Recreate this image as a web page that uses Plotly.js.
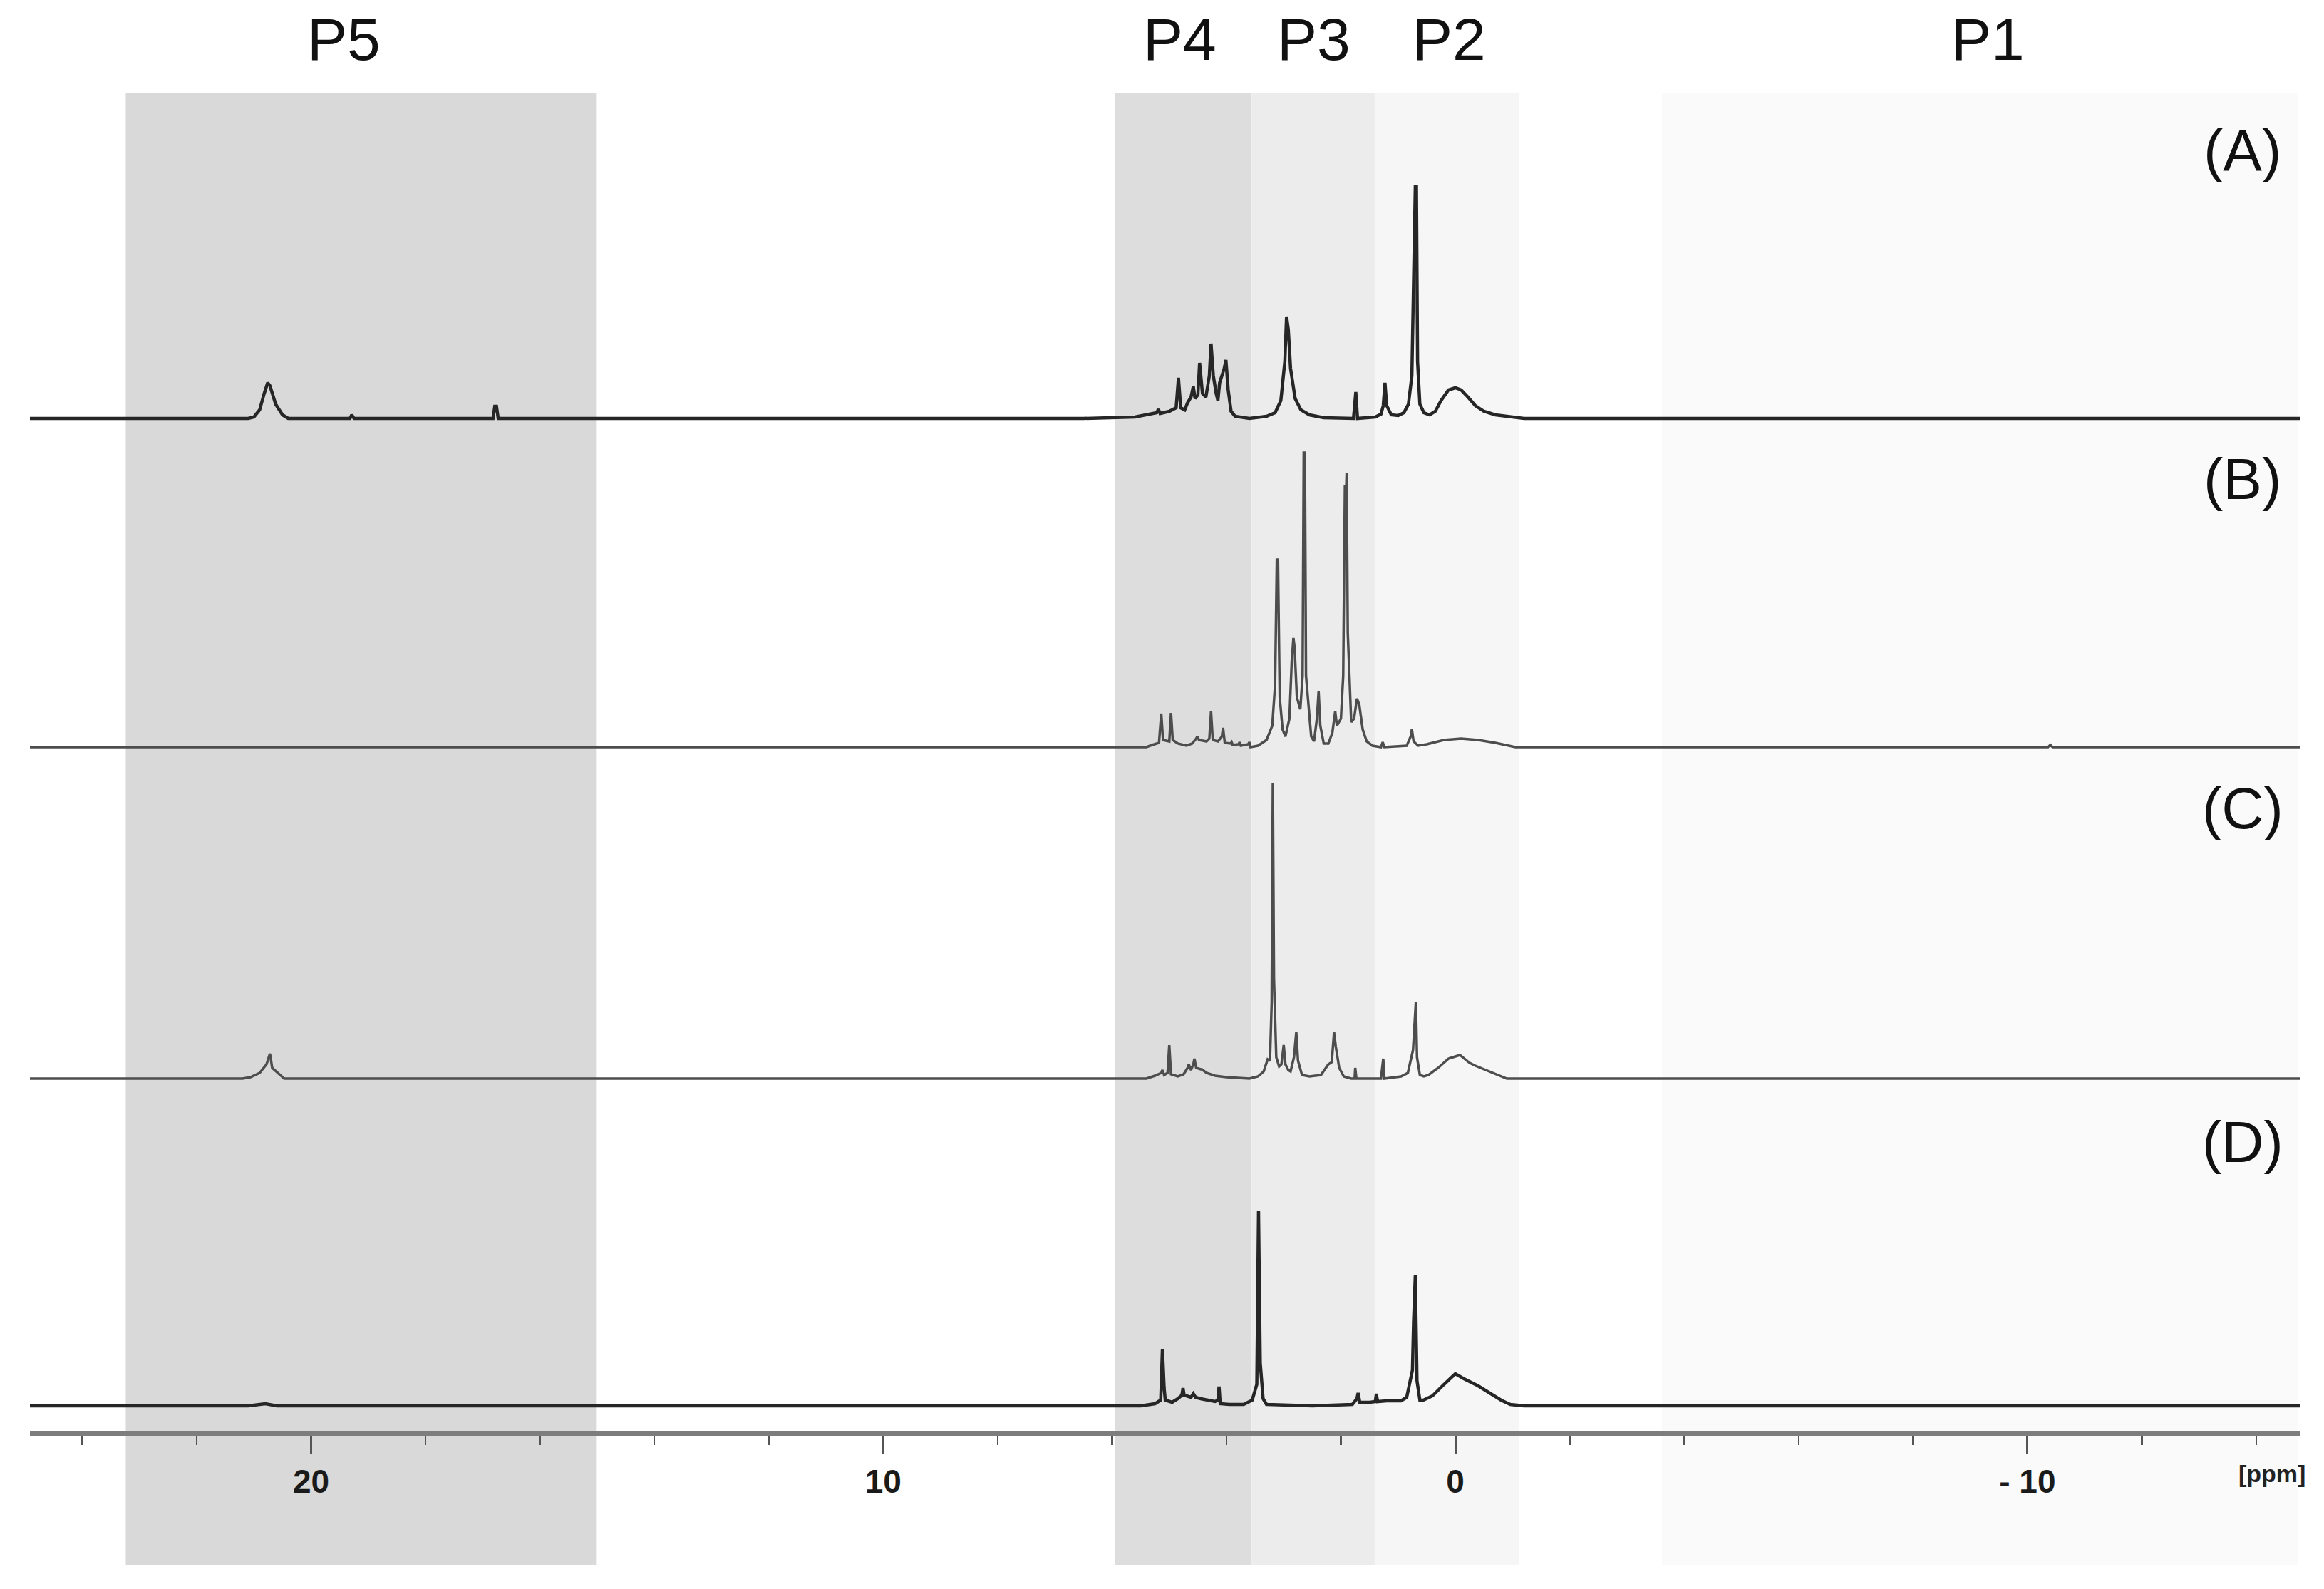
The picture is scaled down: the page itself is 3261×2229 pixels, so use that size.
<!DOCTYPE html>
<html>
<head>
<meta charset="utf-8">
<script src="https://cdn.plot.ly/plotly-3.0.1.min.js"></script>
<style>
html,body{margin:0;padding:0;background:#fff;}
#chart{width:3261px;height:2229px;}
</style>
</head>
<body>
<div id="chart"></div>
<script>
// ---------- DATA (chemical shift in ppm, intensity in arbitrary units) ----------
const specNames = ["(A)", "(B)", "(C)", "(D)"];

const ppmA = [24.93,21.1,21.0,20.9,20.82,20.76,20.72,20.62,20.5,20.4,19.32,19.29,19.25,16.82,16.79,16.76,16.73,
  6.5,5.6,5.3,5.22,5.19,5.16,5.0,4.88,4.84,4.80,4.73,4.68,4.62,4.58,4.55,4.5,4.47,4.42,4.36,4.30,4.27,4.23,4.18,4.15,4.12,4.08,4.04,4.01,3.97,3.92,3.85,3.6,
  3.3,3.15,3.05,2.98,2.95,2.92,2.88,2.80,2.7,2.55,2.3,1.78,1.74,1.71,1.4,1.3,1.26,1.23,1.2,1.12,1.0,0.9,0.82,0.76,0.73,0.70,0.68,0.66,0.62,0.55,0.45,
  0.35,0.25,0.12,0.0,-0.1,-0.22,-0.35,-0.5,-0.7,-0.9,-1.2,-14.76];
const intA = [0,0,2,12,35,50,46,20,5,0,0,5,0,0,17,17,0,
  0,2,6,8,13,7,10,15,57,15,12,22,30,45,28,33,78,35,30,60,105,60,35,25,50,60,70,82,40,10,3,0,
  3,8,25,80,143,125,70,28,12,5,1,0,37,0,2,6,18,50,18,5,4,8,20,60,187,325,325,80,20,8,5,
  10,25,40,43,40,30,18,10,5,3,0,0];

const ppmB = [24.93,5.4,5.3,5.18,5.14,5.11,5.0,4.97,4.94,4.85,4.7,4.6,4.53,4.51,4.48,4.35,4.3,4.27,4.24,4.15,4.08,4.06,4.03,3.93,3.91,3.89,3.79,3.77,3.75,3.62,3.60,3.58,
  3.45,3.3,3.2,3.15,3.12,3.10,3.07,3.02,2.97,2.9,2.86,2.83,2.81,2.77,2.71,2.67,2.65,2.63,2.61,2.57,2.52,2.47,2.42,2.39,2.36,2.3,2.22,2.15,2.10,2.07,2.0,1.96,1.93,1.915,1.90,1.88,1.82,1.77,1.72,1.68,1.62,1.55,1.45,
  1.3,1.27,1.24,0.85,0.78,0.76,0.73,0.65,0.5,0.2,-0.1,-0.4,-0.7,-1.05,-10.36,-10.4,-10.44,-14.76];
const intB = [0,0,3,6,47,10,8,48,10,5,2,5,12,15,10,8,12,50,10,8,15,27,6,5,7,3,4,7,2,4,7,0,
  2,10,30,88,263,263,70,25,15,40,120,153,140,70,53,100,413,413,100,60,15,8,40,78,30,5,5,20,50,30,40,100,368,340,385,160,35,40,68,60,25,8,2,
  0,7,0,2,15,25,8,2,4,10,12,10,6,0,0,3,0,0];

const ppmC = [24.93,21.2,21.06,20.9,20.78,20.72,20.68,20.55,20.47,5.4,5.25,5.14,5.12,5.09,5.03,5.0,4.97,4.85,4.75,4.68,4.66,4.62,4.58,4.56,4.53,4.45,4.43,4.35,4.2,4.0,3.6,
  3.45,3.35,3.28,3.24,3.21,3.19,3.17,3.13,3.08,3.04,3.0,2.97,2.92,2.88,2.82,2.78,2.75,2.68,2.55,2.35,2.22,2.16,2.12,2.09,2.03,1.95,1.82,1.76,1.75,1.73,
  1.3,1.26,1.24,0.95,0.83,0.74,0.72,0.69,0.67,0.62,0.55,0.47,0.3,0.12,-0.08,-0.25,-0.35,-0.6,-0.9,-14.76];
const intC = [0,0,2,8,20,35,15,5,0,0,4,8,12,5,8,47,6,3,6,15,20,12,20,28,15,13,13,8,4,2,0,
  3,10,27,25,107,415,140,30,17,20,47,20,12,10,30,65,25,5,3,5,20,23,65,45,15,3,0,0,15,0,
  0,28,0,3,8,40,67,108,30,5,3,5,15,28,33,22,18,10,0,0];

const ppmD = [24.93,21.1,20.8,20.6,5.5,5.25,5.15,5.12,5.09,5.07,4.95,4.85,4.78,4.76,4.74,4.62,4.58,4.54,4.45,4.2,4.15,4.13,4.11,3.95,3.7,
  3.55,3.47,3.44,3.41,3.36,3.3,2.5,1.8,1.72,1.70,1.67,1.5,1.4,1.38,1.36,1.2,0.95,0.85,0.75,0.73,0.70,0.67,0.62,0.56,0.4,0.2,0.0,-0.15,-0.4,-0.6,-0.8,-0.96,-1.2,-14.76];
const intD = [0,0,3,0,0,3,8,80,25,8,5,10,15,25,15,12,17,12,10,6,8,27,3,2,2,
  8,30,273,60,10,2,0,2,10,18,5,5,6,17,6,7,7,12,50,118,183,35,8,8,14,30,45,38,28,18,8,2,0,0];

const regionNames = ["P5", "P4", "P3", "P2", "P1"];
const regionFrom  = [23.24, 5.95, 3.56, 1.41, -3.61];
const regionTo    = [15.02, 3.56, 1.41, -1.11, -14.72];
const regionLabelAt = [19.43, 4.81, 2.47, 0.11, -9.31];

const tickVals = [20, 10, 0, -10];
const tickText = ["20", "10", "0", "- 10"];

// ---------- PRESENTATION ----------
const W = 3261, H = 2229;
const M = {l: 42, r: 34, t: 0, b: 221};
const PH = H - M.t - M.b;              // plot height in px
const yp = p => (PH - p) / PH;          // pixel row (from top) -> paper y
const baseRows = [587, 1048, 1513, 1972];
const offsets = baseRows.map(p => PH - p);
const labelRows = [210, 671, 1133, 1601];
const lineColors = ["#262626", "#4d4d4d", "#4d4d4d", "#262626"];
const lineWidths = [4.5, 3.5, 3.5, 4.5];
const bandColors = ["#d9d9d9", "#dddddd", "#ececec", "#f6f6f6", "#fafafa"];

const X = [ppmA, ppmB, ppmC, ppmD];
const Y = [intA, intB, intC, intD];

const traces = X.map((xs, i) => ({
  type: "scatter", mode: "lines",
  x: xs, y: Y[i].map(v => v + offsets[i]),
  line: {color: lineColors[i], width: lineWidths[i]},
  name: specNames[i], hoverinfo: "x+y", showlegend: false
}));

const shapes = regionNames.map((n, i) => ({
  type: "rect", xref: "x", yref: "paper",
  x0: regionFrom[i], x1: regionTo[i], y0: yp(2195), y1: yp(130),
  fillcolor: bandColors[i], line: {width: 0}, layer: "below"
}));

const annotations = [];
regionNames.forEach((n, i) => annotations.push({
  text: n, x: regionLabelAt[i], xref: "x", y: yp(55), yref: "paper",
  showarrow: false, xanchor: "center", yanchor: "middle",
  font: {family: "Liberation Sans, Arial, sans-serif", size: 84, color: "#111"}
}));
specNames.forEach((n, i) => annotations.push({
  text: n, x: -13.76, xref: "x", y: yp(labelRows[i]), yref: "paper",
  showarrow: false, xanchor: "center", yanchor: "middle",
  font: {family: "Liberation Sans, Arial, sans-serif", size: 82, color: "#111"}
}));
annotations.push({
  text: "<b>[ppm]</b>", x: -14.27, xref: "x", y: yp(2067), yref: "paper",
  showarrow: false, xanchor: "center", yanchor: "middle",
  font: {family: "Liberation Sans Narrow, Liberation Sans, Arial, sans-serif", size: 34, color: "#222"}
});

const layout = {
  width: W, height: H,
  margin: M,
  paper_bgcolor: "#ffffff", plot_bgcolor: "rgba(0,0,0,0)",
  showlegend: false,
  xaxis: {
    range: [24.915, -14.76], showgrid: false, zeroline: false,
    showline: true, linecolor: "#7d7d7d", linewidth: 6,
    tickmode: "array", tickvals: tickVals, ticktext: tickText.map(t => "<b>" + t + "</b>"),
    ticks: "outside", ticklen: 25, tickwidth: 3, tickcolor: "#555",
    minor: {tickmode: "linear", tick0: 0, dtick: 2, ticks: "outside", ticklen: 13, tickwidth: 2.5, tickcolor: "#555", showgrid: false},
    tickfont: {family: "Liberation Sans Narrow, Liberation Sans, Arial, sans-serif", size: 46, color: "#1a1a1a"},
    fixedrange: true
  },
  yaxis: {range: [0, PH], visible: false, showgrid: false, zeroline: false, fixedrange: true},
  shapes: shapes,
  annotations: annotations
};

Plotly.newPlot("chart", traces, layout, {displayModeBar: false, staticPlot: true});
</script>
</body>
</html>
